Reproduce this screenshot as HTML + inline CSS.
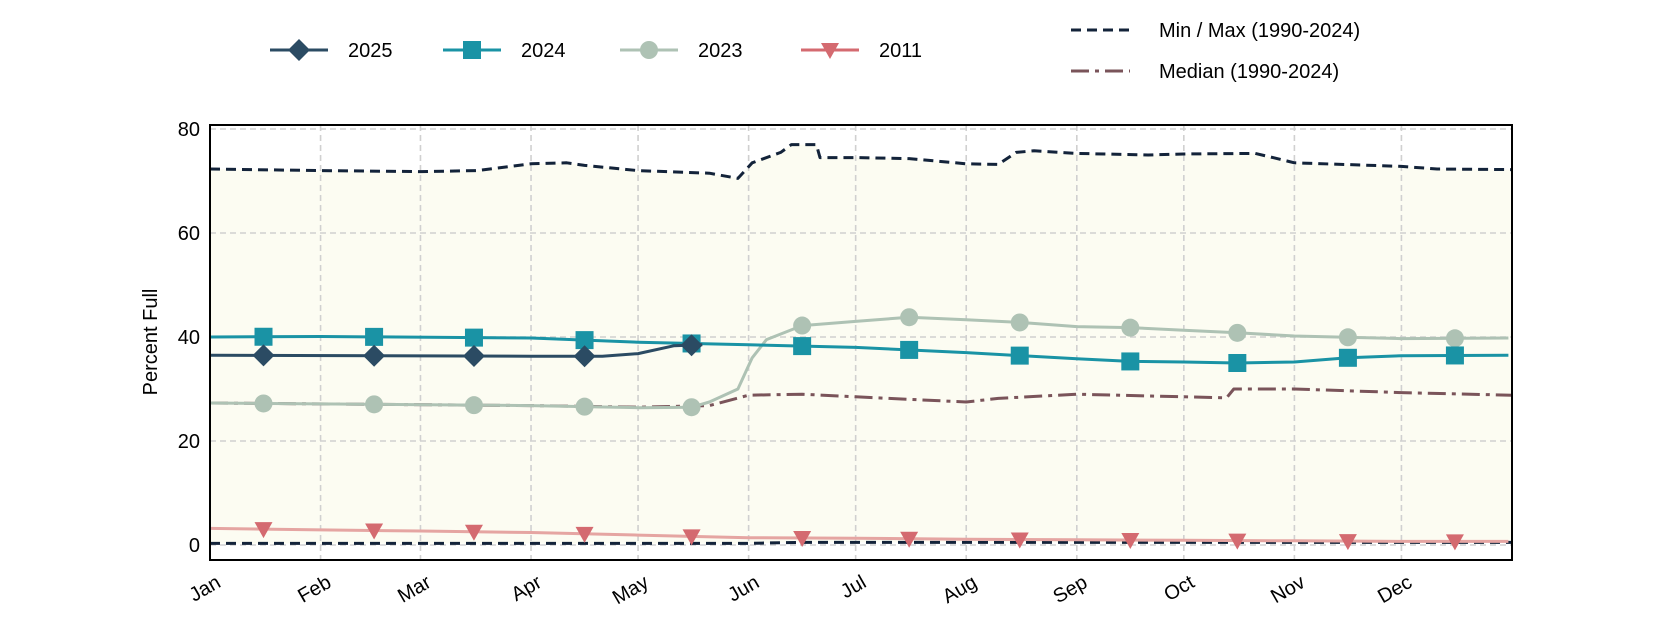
<!DOCTYPE html>
<html><head><meta charset="utf-8"><style>
body{margin:0;background:#fff;}
svg{display:block;font-family:"Liberation Sans Narrow","Liberation Sans",sans-serif;}
</style></head><body>
<svg id="chart" width="1680" height="630" viewBox="0 0 1680 630">
<g id="legend"></g>
<g id="plot"></g>
</svg>
<script>
const monthLabels=["Jan","Feb","Mar","Apr","May","Jun","Jul","Aug","Sep","Oct","Nov","Dec"];
const monthStarts=[0,31,59,90,120,151,181,212,243,273,304,334];
const markerDays=[15,46,74,105,135,166,196,227,258,288,319,349];
const yTicks=[0,20,40,60,80];
const maxDays=[0,31,59,75,90,100,105,120,140,148,152,160,163,170,171,181,196,212,221,226,231,243,263,273,293,298,304,334,344,365];
const maxVals=[72.3,72,71.8,72,73.3,73.5,73,72,71.5,70.5,73.5,75.5,77,77,74.5,74.5,74.3,73.3,73.2,75.5,75.8,75.3,75,75.2,75.3,74.5,73.5,72.8,72.3,72.2];
const minDays=[0,150,165,365];
const minVals=[0.3,0.3,0.5,0.5];
const medDays=[0,90,120,140,151,166,181,212,221,243,273,285,287,304,334,365];
const medVals=[27.3,26.8,26.5,26.8,28.8,29,28.5,27.5,28.2,29,28.5,28.3,30,30,29.3,28.8];
const y2025Days=[0,90,110,120,130,138];
const y2025Vals=[36.5,36.3,36.3,36.8,38.3,38.5];
const y2024Days=[0,31,90,120,151,181,212,243,258,273,288,304,319,334,364];
const y2024Vals=[40,40.1,39.8,39,38.5,38,37,35.8,35.3,35.2,35,35.2,36,36.4,36.5];
const y2023Days=[0,90,120,135,140,148,152,156,166,181,196,212,227,243,258,273,288,304,334,364];
const y2023Vals=[27.3,26.8,26.4,26.5,27.5,30,36,39.5,42.2,43,43.8,43.3,42.8,42,41.8,41.3,40.8,40.2,39.7,39.8];
const y2011Days=[0,31,59,90,120,151,181,212,243,273,304,334,364];
const y2011Vals=[3.2,2.9,2.7,2.4,1.9,1.4,1.3,1.1,1.0,0.9,0.8,0.7,0.7];

const NS="http://www.w3.org/2000/svg";
const X0=210,X1=1512,T=125,B=560;
const x=d=>X0+d*(X1-X0)/365;
const y=v=>545-v*5.2;
function mk(tag,attrs,parent){const e=document.createElementNS(NS,tag);for(const k in attrs)e.setAttribute(k,attrs[k]);parent.appendChild(e);return e;}
function interp(ds,vs,d){for(let i=1;i<ds.length;i++){if(d<=ds[i]){const t=(d-ds[i-1])/(ds[i]-ds[i-1]);return vs[i-1]+t*(vs[i]-vs[i-1]);}}return vs[vs.length-1];}
function pts(ds,vs){return ds.map((d,i)=>x(d).toFixed(1)+","+y(vs[i]).toFixed(1)).join(" ");}
const plot=document.getElementById("plot"),legend=document.getElementById("legend");

const bg=mk("rect",{x:X0,y:T,width:X1-X0,height:B-T,fill:"#fff"},plot);


// band
let bandPts=pts(maxDays,maxVals)+" "+minDays.slice().reverse().map((d,i)=>x(d)+","+y(minVals[minVals.length-1-i])).join(" ");
const band=mk("polygon",{points:bandPts,fill:"#fcfcf2"},plot);


// grid
yTicks.forEach(v=>{
 const g=mk("line",{x1:X0,x2:X1,y1:y(v),y2:y(v),stroke:"#d0d0d0","stroke-width":1.6,"stroke-dasharray":"6,4"},plot);
 
 
 const t=mk("text",{x:X0-10,y:y(v)+7,"text-anchor":"end","font-size":20,fill:"#000"},plot);t.textContent=v;
 
 
});
monthStarts.forEach((d,i)=>{
 if(i>0){const g=mk("line",{x1:x(d),x2:x(d),y1:T,y2:B,stroke:"#d0d0d0","stroke-width":1.6,"stroke-dasharray":"6,4"},plot);
 
 }
 const t=mk("text",{x:0,y:0,"text-anchor":"end","font-size":20,fill:"#000",transform:`translate(${x(d)+12},${B+26}) rotate(-30)`},plot);t.textContent=monthLabels[i];
 
 
});
function line(ds,vs,color,w,dash,name){const p=mk("polyline",{points:pts(ds,vs),fill:"none",stroke:color,"stroke-width":w,"stroke-linejoin":"round"},plot);if(dash)p.setAttribute("stroke-dasharray",dash);
 
 return p;}
function marker(shape,cx,cy,color,parent){let e;
 if(shape==="diamond")e=mk("polygon",{points:`${cx},${cy-11} ${cx+11},${cy} ${cx},${cy+11} ${cx-11},${cy}`,fill:color},parent);
 else if(shape==="square")e=mk("rect",{x:cx-9,y:cy-9,width:18,height:18,fill:color},parent);
 else if(shape==="circle")e=mk("circle",{cx:cx,cy:cy,r:9,fill:color},parent);
 else e=mk("polygon",{points:`${cx-9},${cy-7} ${cx+9},${cy-7} ${cx},${cy+9}`,fill:color},parent);
 return e;}
line(maxDays,maxVals,"#13233a",3,"10,6","max-line");
line(minDays,minVals,"#13233a",3,"10,6","min-line");
line(medDays,medVals,"#7a545a",3,"18,6,4,6","median-line");
const series=[
 {d:y2011Days,v:y2011Vals,c:"#e5a5a2",m:"#d46a70",s:"tri",n:"2011",days:markerDays},
 {d:y2023Days,v:y2023Vals,c:"#aec2b4",m:"#aec2b4",s:"circle",n:"2023",days:markerDays},
 {d:y2024Days,v:y2024Vals,c:"#1a93a5",m:"#1a93a5",s:"square",n:"2024",days:markerDays},
 {d:y2025Days,v:y2025Vals,c:"#2b4b63",m:"#2b4b63",s:"diamond",n:"2025",days:markerDays.filter(d=>d<=138)}
];
series.forEach(s=>{
 line(s.d,s.v,s.c,3,null,"series-"+s.n+"-line");
 s.days.forEach(d=>{const e=marker(s.s,x(d),y(interp(s.d,s.v,d)),s.m,plot);
  
  });
});
const fr=mk("rect",{x:X0,y:T,width:X1-X0,height:B-T,fill:"none",stroke:"#000","stroke-width":2},plot);


const yt=mk("text",{x:0,y:0,"text-anchor":"middle","font-size":20,fill:"#000",transform:"translate(157,342) rotate(-90)"},plot);yt.textContent="Percent Full";


// legend
const leg=[{n:"2025",c:"#2b4b63",s:"diamond",cx:299},{n:"2024",c:"#1a93a5",s:"square",cx:472},{n:"2023",c:"#aec2b4",s:"circle",cx:649},{n:"2011",c:"#d46a70",s:"tri",cx:830}];
leg.forEach(l=>{
 const g=mk("g",{},legend);
 
 
 mk("line",{x1:l.cx-29,x2:l.cx+29,y1:50,y2:50,stroke:l.n==="2011"?"#d46a70":l.c,"stroke-width":3},g);
 marker(l.s,l.cx,50,l.c,g);
 const t=mk("text",{x:l.cx+49,y:57,"font-size":20,fill:"#000"},g);t.textContent=l.n;
});
[{n:"Min / Max (1990-2024)",c:"#13233a",d:"10,6",yy:30,k:"minmax"},{n:"Median (1990-2024)",c:"#7a545a",d:"18,6,4,6",yy:71,k:"median"}].forEach(l=>{
 const g=mk("g",{},legend);
 
 
 mk("line",{x1:1071,x2:1130,y1:l.yy,y2:l.yy,stroke:l.c,"stroke-width":3,"stroke-dasharray":l.d},g);
 const t=mk("text",{x:1159,y:l.yy+7,"font-size":20,fill:"#000"},g);t.textContent=l.n;
});
</script>
</body></html>
